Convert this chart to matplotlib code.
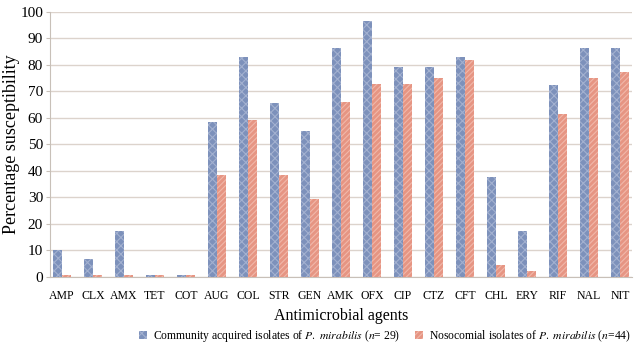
import numpy as np
import matplotlib.pyplot as plt

# antimicrobial agents and % susceptibility
agents = ['AMP', 'CLX', 'AMX', 'TET', 'COT', 'AUG', 'COL', 'STR', 'GEN', 'AMK',
          'OFX', 'CIP', 'CTZ', 'CFT', 'CHL', 'ERY', 'RIF', 'NAL', 'NIT']
community = [10.3, 6.9, 17.2, 0, 0, 58.6, 82.8, 65.5, 55.2, 86.2,
             96.6, 79.3, 79.3, 82.8, 37.9, 17.2, 72.4, 86.2, 86.2]
nosocomial = [0, 0, 0, 0, 0, 38.6, 59.1, 38.6, 29.5, 65.9,
              72.7, 72.7, 75.0, 81.8, 4.5, 2.3, 61.4, 75.0, 77.3]

plt.rcParams['font.family'] = 'Liberation Serif'
plt.rcParams['mathtext.fontset'] = 'stix'
plt.rcParams['hatch.linewidth'] = 0.8

fig = plt.figure(figsize=(6.41, 3.48), dpi=100)
ax = fig.add_axes([0.078, 0.204, 0.908, 0.762])

x = np.arange(len(agents))
w = 0.28
# tiny stub so zero bars still show like the original
c_h = np.maximum(community, 0.6)
n_h = np.maximum(nosocomial, 0.6)
ax.bar(x - w/2, c_h, w, color='#7d91bb', edgecolor='#a3b1d0', linewidth=0,
       hatch='xxxx', zorder=3)
ax.bar(x + w/2, n_h, w, color='#e69583', edgecolor='#f1b8aa', linewidth=0,
       hatch='//////', zorder=3)

ax.set_xlim(-0.39, 18.39)
ax.set_ylim(0, 100)
ax.set_yticks(range(0, 101, 10))
ax.set_xticks(x)
ax.set_xticklabels(agents, fontsize=8.5)
ax.tick_params(axis='y', labelsize=11, length=3, color='#c8c0b8', pad=2)
ax.tick_params(axis='x', length=0, pad=9)
ax.yaxis.grid(True, color='#dcd3cc', linewidth=1, zorder=0)
for s in ['top', 'right']:
    ax.spines[s].set_visible(False)
for s in ['left', 'bottom']:
    ax.spines[s].set_color('#c8c0b8')

ax.set_ylabel('Percentage susceptibility', fontsize=13, labelpad=0)
ax.set_xlabel('Antimicrobial agents', fontsize=11.5, labelpad=5)

h1 = plt.Rectangle((0, 0), 1, 1, facecolor='#7d91bb', edgecolor='#a3b1d0',
                   linewidth=0, hatch='xxxx')
h2 = plt.Rectangle((0, 0), 1, 1, facecolor='#e69583', edgecolor='#f1b8aa',
                   linewidth=0, hatch='//////')
fig.legend([h1, h2],
           [r'Community acquired isolates of $\it{P.\ mirabilis}$ ($\it{n}$= 29)',
            r'Nosocomial isolates of $\it{P.\ mirabilis}$ ($\it{n}$=44)'],
           loc='lower left', bbox_to_anchor=(0.2, -0.02), ncol=2, frameon=False,
           fontsize=8.4, handlelength=0.7, handleheight=0.7, handletextpad=0.5,
           columnspacing=1.3)

fig.savefig('out.png', dpi=100)
